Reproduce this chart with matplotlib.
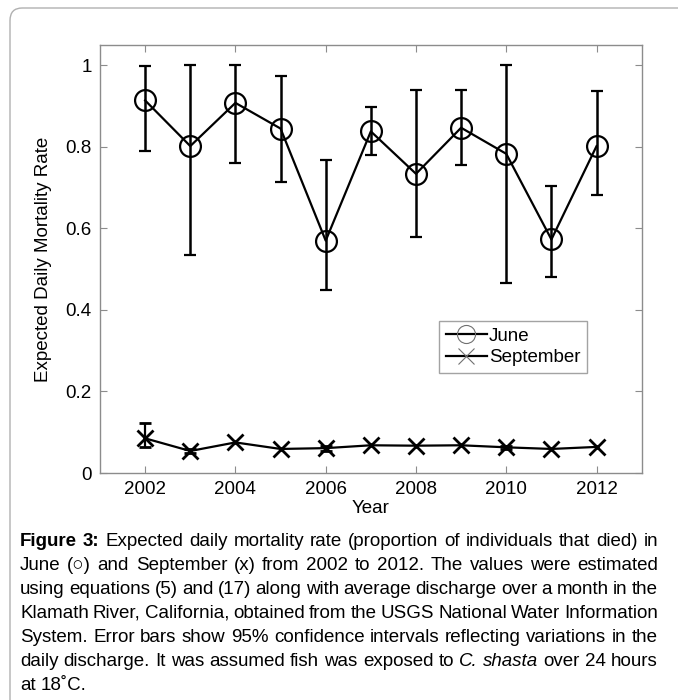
import numpy as np
import matplotlib
matplotlib.use("Agg")
import matplotlib.pyplot as plt
from matplotlib.lines import Line2D
from matplotlib.patches import FancyBboxPatch

# ---------------- data ----------------
years = [2002, 2003, 2004, 2005, 2006, 2007, 2008, 2009, 2010, 2011, 2012]
june = [0.914, 0.802, 0.908, 0.845, 0.570, 0.838, 0.734, 0.847, 0.783, 0.573, 0.802]
june_low = [0.789, 0.535, 0.761, 0.715, 0.449, 0.781, 0.580, 0.756, 0.467, 0.480, 0.683]
june_high = [0.998, 1.000, 1.000, 0.974, 0.769, 0.897, 0.939, 0.939, 1.000, 0.705, 0.937]
sept = [0.085, 0.054, 0.075, 0.059, 0.061, 0.068, 0.067, 0.068, 0.063, 0.059, 0.064]
sept_low = [0.064, 0.050, np.nan, np.nan, 0.055, np.nan, np.nan, np.nan, 0.060, np.nan, np.nan]
sept_high = [0.122, 0.058, np.nan, np.nan, 0.066, np.nan, np.nan, np.nan, 0.066, np.nan, np.nan]
xticks = [2002, 2004, 2006, 2008, 2010, 2012]
yticks = [0, 0.2, 0.4, 0.6, 0.8, 1]
ytick_labels = ["0", "0.2", "0.4", "0.6", "0.8", "1"]

caption_lines = [
    [("Figure 3:", "bold"), ("Expected daily mortality rate (proportion of individuals that died) in", "normal")],
    [("June (\u25cb) and September (x) from 2002 to 2012. The values were estimated", "normal")],
    [("using equations (5) and (17) along with average discharge over a month in the", "normal")],
    [("Klamath River, California, obtained from the USGS National Water Information", "normal")],
    [("System. Error bars show 95% confidence intervals reflecting variations in the", "normal")],
    [("daily discharge. It was assumed fish was exposed to", "normal"), ("C. shasta", "italic"), ("over 24 hours", "normal")],
    [("at 18\u02daC.", "normal")],
]

# ---------------- figure ----------------
W, H = 678, 700
fig = plt.figure(figsize=(W / 100, H / 100), dpi=100)
fig.patch.set_facecolor("white")

# outer frame (rounded, open to the bottom-right)
frame = FancyBboxPatch((10 / W, -0.2), (W + 50) / W, 1.2 - 8 / H,
                       boxstyle="round,pad=0,rounding_size=0.018",
                       transform=fig.transFigure, facecolor="none",
                       edgecolor="#b0b0b0", linewidth=1.0, zorder=0)
fig.patches.append(frame)

ax = fig.add_axes([100 / W, 1 - 473 / H, (641.7 - 100) / W, (473 - 45) / H])

axfont = ["Liberation Sans", "DejaVu Sans"]
gray = "#8c8c8c"

# June
jy = np.array(june)
jerr = np.vstack([jy - np.array(june_low), np.array(june_high) - jy])
ax.errorbar(years, june, yerr=jerr, color="black", lw=1.6, elinewidth=1.8,
            capsize=4.5, capthick=1.8, marker="o", markersize=15,
            markerfacecolor="none", markeredgecolor="black", markeredgewidth=1.6, zorder=3)

# September
sy = np.array(sept)
serr = np.vstack([sy - np.array(sept_low), np.array(sept_high) - sy])
ax.errorbar(years, sept, yerr=serr, color="black", lw=1.6, elinewidth=1.6,
            capsize=4.5, capthick=1.6, marker="x", markersize=11,
            markeredgecolor="black", markeredgewidth=2.0, zorder=3)

ax.set_xlim(2001, 2013)
ax.set_ylim(0, 1.05)
ax.set_xticks(xticks)
ax.set_xticklabels([str(x) for x in xticks], fontsize=13.5, family=axfont)
ax.set_yticks(yticks)
ax.set_yticklabels(ytick_labels, fontsize=13.5, family=axfont)
ax.tick_params(direction="in", length=5, width=0.8, color=gray, top=True, right=True, pad=6)
for s in ax.spines.values():
    s.set_color(gray)
    s.set_linewidth(1.0)
ax.set_xlabel("Year", fontsize=13.5, family=axfont, labelpad=1)
ax.set_ylabel("Expected Daily Mortality Rate", fontsize=13.5, family=axfont, labelpad=10)

handles = [
    Line2D([], [], color="black", lw=1.6, marker="o", markersize=13,
           markerfacecolor="none", markeredgecolor="#707070", markeredgewidth=0.8),
    Line2D([], [], color="black", lw=1.6, marker="x", markersize=11,
           markeredgecolor="#707070", markeredgewidth=0.8),
]
leg = ax.legend(handles, ["June", "September"], loc="upper left",
                bbox_to_anchor=((439 - 100) / 541.7, (473 - 321) / 428),
                prop={"family": axfont, "size": 13.5}, frameon=True, fancybox=False,
                edgecolor=gray, handlelength=2.2, handletextpad=0.1,
                borderpad=0.35, labelspacing=0.25, borderaxespad=0)
leg.get_frame().set_linewidth(1.0)

# ---------------- justified caption ----------------
capfont = ["Liberation Sans Narrow", "Liberation Sans", "DejaVu Sans"]
capsize = 13.5
x0, x1 = 20, 658
line_y = [541, 565, 589, 613, 637, 661, 685]
renderer = fig.canvas.get_renderer()


def style_kw(st):
    if st == "bold":
        return dict(fontweight="bold")
    if st == "italic":
        return dict(fontstyle="italic")
    return {}


for li, (segs, yc) in enumerate(zip(caption_lines, line_y)):
    words = []
    for text, st in segs:
        for w in text.split(" "):
            words.append((w, st))
    texts = []
    widths = []
    for w, st in words:
        t = fig.text(0, 0, w, fontsize=capsize, family=capfont, va="center",
                     ha="left", transform=None, **style_kw(st))
        texts.append(t)
        widths.append(t.get_window_extent(renderer).width)
    sp_t = fig.text(0, 0, "a a", fontsize=capsize, family=capfont)
    aa = fig.text(0, 0, "aa", fontsize=capsize, family=capfont)
    nat_space = sp_t.get_window_extent(renderer).width - aa.get_window_extent(renderer).width
    sp_t.remove()
    aa.remove()
    if li < len(caption_lines) - 1 and len(words) > 1:
        space = max((x1 - x0 - sum(widths)) / (len(words) - 1), 0.6 * nat_space)
    else:
        space = nat_space
    x = x0
    for t, w in zip(texts, widths):
        t.set_position((x / W, 1 - yc / H))
        t.set_transform(fig.transFigure)
        x += w + space

fig.savefig("out.png", dpi=100, facecolor="white")
